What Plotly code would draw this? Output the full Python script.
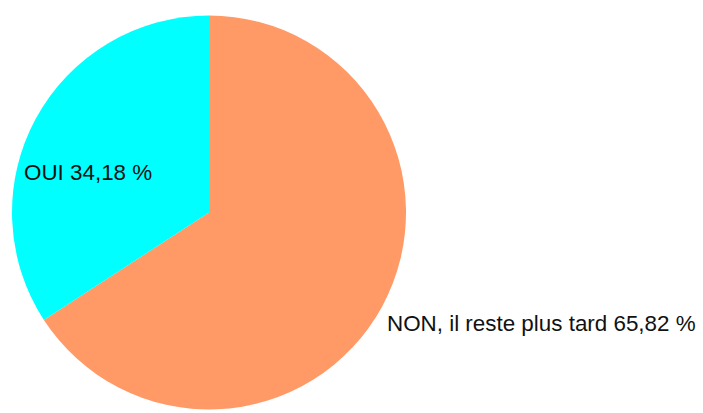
import plotly.graph_objects as go

# Survey answers and their shares (percent), in drawing order from 12 o'clock
labels = ["NON, il reste plus tard", "OUI"]
values = [65.82, 34.18]
colors = ["#FF9966", "#00FFFF"]

W, H = 703, 413
cx, cy, r = 209, 212.5, 197

def fmt(v):
    return f"{v:.2f}".replace(".", ",") + " %"

fig = go.Figure(
    go.Pie(
        labels=labels,
        values=values,
        marker=dict(colors=colors, line=dict(width=0)),
        sort=False,
        direction="clockwise",
        rotation=0,
        textinfo="none",
        hoverinfo="label+percent",
        domain=dict(
            x=[(cx - r) / W, (cx + r) / W],
            y=[(H - cy - r) / H, (H - cy + r) / H],
        ),
    )
)

label_pos = [(385, 323), (22, 173)]
for name, v, (lx, ly) in zip(labels, values, label_pos):
    fig.add_annotation(
        x=lx / W, y=1 - ly / H, xref="paper", yref="paper",
        text=f"{name} {fmt(v)}", showarrow=False,
        xanchor="left", yanchor="middle",
        font=dict(family="Liberation Sans", size=22.4, color="#111111"),
    )

fig.update_layout(
    width=W, height=H,
    margin=dict(l=0, r=0, t=0, b=0),
    showlegend=False,
    paper_bgcolor="white",
    plot_bgcolor="white",
)

fig.write_html("out.html")
